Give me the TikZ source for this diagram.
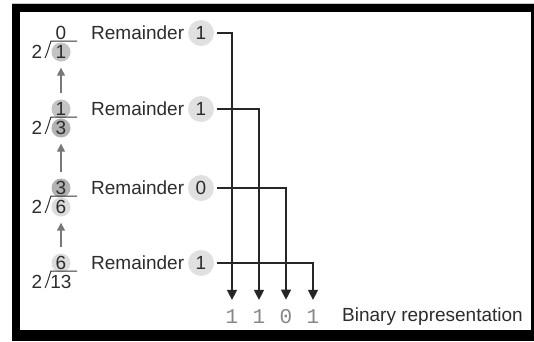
\documentclass[tikz,border=0pt]{standalone}
\usepackage{fontspec}
\setmainfont{Liberation Sans}
\setmonofont{Liberation Mono}
\usetikzlibrary{arrows.meta}
\definecolor{textgray}{RGB}{45,45,45}
\definecolor{bitgray}{RGB}{135,135,135}
\definecolor{onegray}{RGB}{196,196,196}
\definecolor{threegray}{RGB}{178,178,178}
\definecolor{sixgray}{RGB}{220,220,220}
\definecolor{remgray}{RGB}{224,224,224}
\definecolor{arrowgray}{RGB}{120,120,120}
\tikzset{
  txt/.style={font=\fontsize{19}{22}\selectfont, text=textgray, inner sep=0pt},
  digit/.style={txt, circle, minimum size=19pt},
  rem-dot/.style={txt, circle, fill=remgray, minimum size=26pt},
  bit/.style={font=\ttfamily\fontsize{21}{24}\selectfont, text=bitgray, inner sep=0pt},
  wire/.style={line width=1.3pt, draw=black!85, -{Triangle[length=10pt,width=10pt]},
    shorten <=3pt, shorten >=10pt},
  up-arrow/.style={line width=1.4pt, draw=arrowgray, -{Triangle[length=8pt,width=8pt]},
    shorten <=6pt, shorten >=6pt},
  bracket/.style={line width=1pt, draw=black!80}
}
% long division sign, #1 = height of the dividend
\newcommand{\divsign}[1]{
  \draw[bracket] (45,#1+6) .. controls (48,#1) and (49,#1-6) .. (51,#1-11) -- (77,#1-11);
}

\begin{document}
\begin{tikzpicture}[x=1pt,y=-1pt]
  \useasboundingbox (0,0) rectangle (534,341);

  % frame
  \fill[gray!45] (12,2.5) rectangle (534,4);
  \fill[black] (12,4) rectangle (534,341);
  \fill[white] (20,12) rectangle (531,330);

  % --- the divisions ---
  \foreach \i/\q/\qt/\qc/\dt/\dc/\rt/\bx in {
      1/33/0/none/1/onegray/1/232,
      2/109/1/onegray/3/threegray/1/259,
      3/188/3/threegray/6/sixgray/0/286,
      4/263/6/sixgray/13/none/1/313}{
    \node[digit, fill=\qc] (q\i) at (61,\q) {\qt};
    \node[digit, fill=\dc] (d\i) at (61,\q+19) {\dt};
    \node[txt] (two\i) at (37,\q+19) {2};
    \divsign{\q+19}

    % remainder
    \node[txt, anchor=west] (l\i) at (91,\q) {Remainder};
    \node[rem-dot] (r\i) at (201,\q) {\rt};
    \node[bit] (b\i) at (\bx,317) {\rt};
    \draw[wire] (r\i.east) -| (b\i.north);
  }

  % quotient goes up as the next dividend
  \draw[up-arrow] (q2) -- (d1);
  \draw[up-arrow] (q3) -- (d2);
  \draw[up-arrow] (q4) -- (d3);

  \node[txt, anchor=west] (binrep) at (342,317) {Binary representation};
\end{tikzpicture}
\end{document}
